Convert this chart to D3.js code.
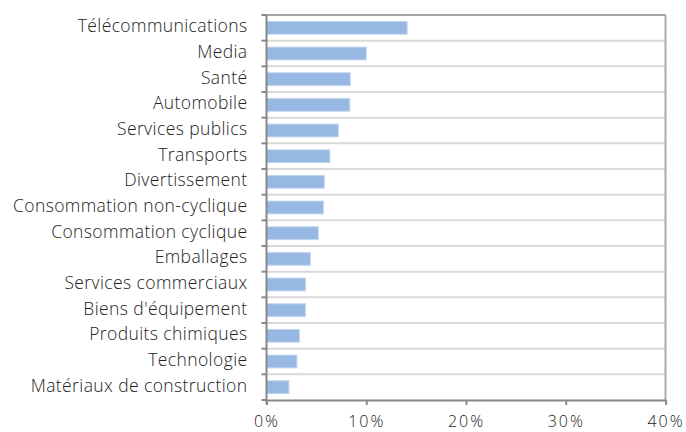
<!DOCTYPE html>
<html>
<head>
<meta charset="utf-8">
<script src="https://cdn.jsdelivr.net/npm/d3@7"></script>
<style>
  body { margin: 0; background: #fff; }
  text { font-family: "Open Sans", sans-serif; font-weight: 300; fill: #222; }
</style>
</head>
<body>
<svg id="chart"></svg>
<script>
// secteurs, du haut vers le bas
var sectors = ["Télécommunications", "Media", "Santé", "Automobile", "Services publics",
  "Transports", "Divertissement", "Consommation non-cyclique", "Consommation cyclique",
  "Emballages", "Services commerciaux", "Biens d'équipement", "Produits chimiques",
  "Technologie", "Matériaux de construction"];
var weights = [14.1, 10.0, 8.4, 8.35, 7.2, 6.35, 5.8, 5.7, 5.2, 4.4, 3.9, 3.9, 3.3, 3.05, 2.25];
var xTicks = [0, 10, 20, 30, 40];

var screen = {width: 686, height: 432};
var margins = {left: 266.5, right: 20.5, top: 15, bottom: 32};
var graph = {
  width: screen.width - margins.left - margins.right,
  height: screen.height - margins.top - margins.bottom
};

var svg = d3.select("#chart")
  .attr("width", screen.width)
  .attr("height", screen.height);

var g = svg.append("g")
  .attr("transform", "translate(" + margins.left + "," + margins.top + ")");

var x = d3.scaleLinear().domain([0, 40]).range([0, graph.width]);
var y = d3.scaleBand().domain(sectors).range([0, graph.height]).paddingInner(0.5).paddingOuter(0.25);

var step = y.step();

// gridlines at category boundaries
g.selectAll("line.grid")
  .data(d3.range(1, sectors.length))
  .enter().append("line")
  .attr("class", "grid")
  .attr("x1", 0).attr("x2", graph.width)
  .attr("y1", function(i) { return i * step; })
  .attr("y2", function(i) { return i * step; })
  .attr("stroke", "#d9d9d9").attr("stroke-width", 2);

// frame top & right
g.append("line").attr("x1", 0).attr("x2", graph.width).attr("y1", 0).attr("y2", 0)
  .attr("stroke", "#a6a6a6").attr("stroke-width", 2);
g.append("line").attr("x1", graph.width).attr("x2", graph.width).attr("y1", 0).attr("y2", graph.height)
  .attr("stroke", "#a8acaf").attr("stroke-width", 2);

// bars
g.selectAll("rect.bar")
  .data(sectors)
  .enter().append("rect")
  .attr("class", "bar")
  .attr("x", 0)
  .attr("y", function(d) { return y(d); })
  .attr("width", function(d, i) { return x(weights[i]); })
  .attr("height", y.bandwidth())
  .attr("fill", "#97b8e3")
  .attr("stroke", "#c4d6f0")
  .attr("stroke-width", 1);

// y axis line + ticks
g.append("line").attr("x1", 0).attr("x2", 0).attr("y1", 0).attr("y2", graph.height + 4)
  .attr("stroke", "#888").attr("stroke-width", 2);
g.selectAll("line.ytick")
  .data(d3.range(0, sectors.length + 1))
  .enter().append("line")
  .attr("class", "ytick")
  .attr("x1", -5).attr("x2", 0)
  .attr("y1", function(i) { return i * step; })
  .attr("y2", function(i) { return i * step; })
  .attr("stroke", "#888").attr("stroke-width", 2);

// labels
g.selectAll("text.ylab")
  .data(sectors)
  .enter().append("text")
  .attr("class", "ylab")
  .attr("x", -19)
  .attr("y", function(d) { return y(d) + y.bandwidth() / 2; })
  .attr("dy", "0.25em")
  .attr("text-anchor", "end")
  .attr("font-size", 17.5)
  .attr("letter-spacing", 0.4)
  .text(function(d) { return d; });

// x axis
var xAxis = g.append("g")
  .attr("transform", "translate(0," + graph.height + ")")
  .call(d3.axisBottom(x).tickValues(xTicks).tickSize(5).tickSizeOuter(0)
    .tickFormat(function(d) { return d + "%"; }));
xAxis.select(".domain").attr("stroke", "#888").attr("stroke-width", 2);
xAxis.selectAll(".tick line").attr("stroke", "#888").attr("stroke-width", 2);
xAxis.selectAll(".tick text").attr("font-size", 16).attr("y", 27).attr("dy", 0)
  .attr("letter-spacing", 2).attr("fill", "#222")
  .style("font-family", "Open Sans").style("font-weight", 300);
</script>
</body>
</html>
